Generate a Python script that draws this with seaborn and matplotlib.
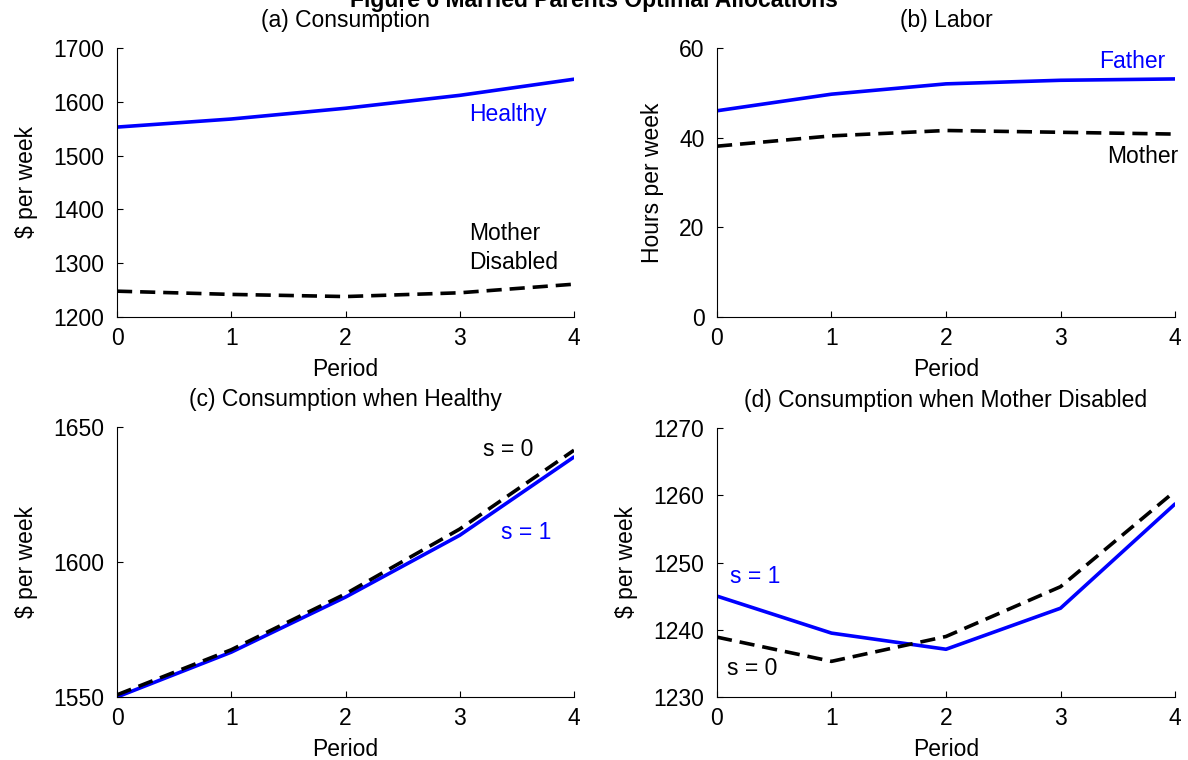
import matplotlib
matplotlib.use("Agg")
import matplotlib.pyplot as plt
import seaborn as sns
import numpy as np

# ---------------- data ----------------
periods = [0, 1, 2, 3, 4]

# (a) Consumption
cons_healthy = [1553, 1568, 1588, 1612, 1642]
cons_mother_disabled = [1248, 1242, 1238, 1245, 1261]

# (b) Labor
labor_father = [46.0, 49.7, 52.0, 52.8, 53.1]
labor_mother = [38.1, 40.4, 41.6, 41.2, 40.8]

# (c) Consumption when Healthy
healthy_s0 = [1550.8, 1567.5, 1588.2, 1612.2, 1641.4]
healthy_s1 = [1550.0, 1566.6, 1587.0, 1609.9, 1638.9]

# (d) Consumption when Mother Disabled
disabled_s0 = [1238.9, 1235.3, 1239.0, 1246.4, 1260.6]
disabled_s1 = [1245.0, 1239.5, 1237.1, 1243.2, 1258.7]

suptitle = "Figure 6 Married Parents Optimal Allocations"
titles = ["(a) Consumption", "(b) Labor",
          "(c) Consumption when Healthy", "(d) Consumption when Mother Disabled"]
xlabel = "Period"
ylabels = ["$ per week", "Hours per week", "$ per week", "$ per week"]
yticks_a = [1200, 1300, 1400, 1500, 1600, 1700]
yticks_b = [0, 20, 40, 60]
yticks_c = [1550, 1600, 1650]
yticks_d = [1230, 1240, 1250, 1260, 1270]

# ---------------- style ----------------
sns.set_style("ticks")
plt.rcParams["font.family"] = ["Liberation Sans", "DejaVu Sans"]
plt.rcParams["mathtext.default"] = "regular"
for k in ["text.color", "axes.labelcolor", "xtick.color", "ytick.color", "axes.edgecolor"]:
    plt.rcParams[k] = "black"
FS = 16.5
BLUE = "#0000FF"
LW = 2.6
DASH = (0, (4.2, 2.2))

fig = plt.figure(figsize=(11.88, 7.6), dpi=100)
W = 1188.0
H = 760.0

def make_ax(left, top, right, bottom):
    return fig.add_axes([left / W, 1 - bottom / H, (right - left) / W, (bottom - top) / H])

ax_a = make_ax(117, 48, 574, 317)
ax_b = make_ax(717, 48, 1175, 317)
ax_c = make_ax(117, 427, 574, 697)
ax_d = make_ax(717, 428, 1175, 697)

def draw(ax, solid, dashed):
    sns.lineplot(x=periods, y=solid, ax=ax, color=BLUE, linewidth=LW)
    sns.lineplot(x=periods, y=dashed, ax=ax, color="black", linewidth=LW, linestyle=DASH)

draw(ax_a, cons_healthy, cons_mother_disabled)
draw(ax_b, labor_father, labor_mother)
draw(ax_c, healthy_s1, healthy_s0)
draw(ax_d, disabled_s1, disabled_s0)

for ax, title, ylab, yt in zip([ax_a, ax_b, ax_c, ax_d], titles, ylabels,
                               [yticks_a, yticks_b, yticks_c, yticks_d]):
    ax.set_xlim(periods[0], periods[-1])
    ax.set_ylim(yt[0], yt[-1])
    ax.set_xticks(periods)
    ax.set_yticks(yt)
    ax.set_title(title, fontsize=FS, pad=15, color="black")
    ax.set_xlabel(xlabel, fontsize=FS, labelpad=6, color="black")
    ax.set_ylabel(ylab.replace("$", r"\$"), fontsize=FS, labelpad=11, color="black")
    sns.despine(ax=ax)
    for s in ["left", "bottom"]:
        ax.spines[s].set_linewidth(0.8)
        ax.spines[s].set_color("black")
    ax.tick_params(axis="both", direction="in", length=4, width=0.8,
                   labelsize=FS, colors="black")
    ax.tick_params(axis="x", pad=7)
    ax.tick_params(axis="y", pad=9)

# annotations
ax_a.text(3.08, 1564, "Healthy", color=BLUE, fontsize=FS, va="baseline", ha="left")
ax_a.text(3.08, 1344, "Mother", color="black", fontsize=FS, va="baseline", ha="left")
ax_a.text(3.08, 1290, "Disabled", color="black", fontsize=FS, va="baseline", ha="left")

ax_b.text(3.92, 55.6, "Father", color=BLUE, fontsize=FS, va="baseline", ha="right")
ax_b.text(4.03, 34.4, "Mother", color="black", fontsize=FS, va="baseline", ha="right")

ax_c.text(3.2, 1639.1, "s = 0", color="black", fontsize=FS, va="baseline", ha="left")
ax_c.text(3.36, 1608.6, "s = 1", color=BLUE, fontsize=FS, va="baseline", ha="left")

ax_d.text(0.115, 1246.9, "s = 1", color=BLUE, fontsize=FS, va="baseline", ha="left")
ax_d.text(0.085, 1233.2, "s = 0", color="black", fontsize=FS, va="baseline", ha="left")

fig.text(0.5, 1 - 7 / H, suptitle, ha="center", va="baseline",
         fontsize=FS, fontweight="bold", color="black")

fig.savefig("out.png", dpi=100)
